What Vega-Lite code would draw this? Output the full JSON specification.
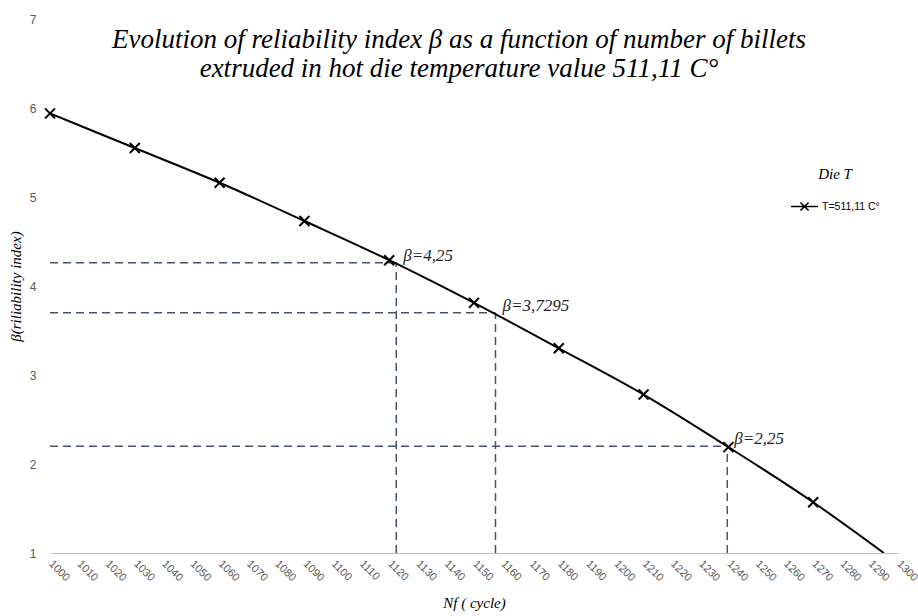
{
  "$schema": "https://vega.github.io/schema/vega-lite/v6.json",
  "autosize": "none",
  "width": 848,
  "height": 534,
  "padding": {"left": 50, "top": 19, "right": 20, "bottom": 63},
  "background": "white",
  "title": {
    "text": ["Evolution of reliability index β as a function of number of billets", "extruded in hot die temperature value 511,11 C°"],
    "font": "Liberation Serif",
    "fontStyle": "italic",
    "fontWeight": "normal",
    "fontSize": 27,
    "lineHeight": 29,
    "color": "#000000",
    "anchor": "middle",
    "frame": "group",
    "baseline": "top",
    "offset": -70,
    "dx": -15
  },
  "datasets": {
    "curve": [
      {"x": 1000, "y": 5.94, "series": "T=511,11 C°"},
      {"x": 1030, "y": 5.55, "series": "T=511,11 C°"},
      {"x": 1060, "y": 5.16, "series": "T=511,11 C°"},
      {"x": 1090, "y": 4.73, "series": "T=511,11 C°"},
      {"x": 1120, "y": 4.29, "series": "T=511,11 C°"},
      {"x": 1150, "y": 3.81, "series": "T=511,11 C°"},
      {"x": 1180, "y": 3.30, "series": "T=511,11 C°"},
      {"x": 1210, "y": 2.78, "series": "T=511,11 C°"},
      {"x": 1240, "y": 2.19, "series": "T=511,11 C°"},
      {"x": 1270, "y": 1.57, "series": "T=511,11 C°"},
      {"x": 1295, "y": 1.0, "series": "T=511,11 C°"}
    ],
    "refs": [
      {"x0": 1000, "y0": 1, "x": 1122.5, "y": 4.26, "label": "β=4,25"},
      {"x0": 1000, "y0": 1, "x": 1157.6, "y": 3.70, "label": "β=3,7295"},
      {"x0": 1000, "y0": 1, "x": 1239.6, "y": 2.20, "label": "β=2,25"}
    ]
  },
  "encoding": {
    "x": {
      "type": "quantitative",
      "title": "Nf ( cycle)",
      "scale": {"domain": [1000, 1300], "nice": false, "zero": false},
      "axis": {
        "values": [1000, 1010, 1020, 1030, 1040, 1050, 1060, 1070, 1080, 1090, 1100, 1110, 1120, 1130, 1140, 1150, 1160, 1170, 1180, 1190, 1200, 1210, 1220, 1230, 1240, 1250, 1260, 1270, 1280, 1290, 1300],
        "format": "d",
        "labelOverlap": false
      }
    },
    "y": {
      "type": "quantitative",
      "title": "β(riliability index)",
      "scale": {"domain": [1, 7], "nice": false, "zero": false},
      "axis": {"values": [1, 2, 3, 4, 5, 6, 7], "format": "d", "labelOverlap": false}
    }
  },
  "layer": [
    {
      "data": {"name": "refs"},
      "mark": {"type": "rule", "color": "#44546A", "strokeWidth": 1.5, "strokeDash": [8, 5]},
      "encoding": {
        "x": {"field": "x0", "type": "quantitative", "title": "Nf ( cycle)", "axis": {"values": [1000, 1010, 1020, 1030, 1040, 1050, 1060, 1070, 1080, 1090, 1100, 1110, 1120, 1130, 1140, 1150, 1160, 1170, 1180, 1190, 1200, 1210, 1220, 1230, 1240, 1250, 1260, 1270, 1280, 1290, 1300], "format": "d", "labelOverlap": false}},
        "x2": {"field": "x"},
        "y": {"field": "y", "type": "quantitative", "title": "β(riliability index)", "axis": {"values": [1, 2, 3, 4, 5, 6, 7], "format": "d", "labelOverlap": false}}
      }
    },
    {
      "data": {"name": "refs"},
      "mark": {"type": "rule", "color": "#44546A", "strokeWidth": 1.5, "strokeDash": [8, 5]},
      "encoding": {
        "x": {"field": "x", "type": "quantitative", "title": "Nf ( cycle)", "axis": {"values": [1000, 1010, 1020, 1030, 1040, 1050, 1060, 1070, 1080, 1090, 1100, 1110, 1120, 1130, 1140, 1150, 1160, 1170, 1180, 1190, 1200, 1210, 1220, 1230, 1240, 1250, 1260, 1270, 1280, 1290, 1300], "format": "d", "labelOverlap": false}},
        "y": {"field": "y0", "type": "quantitative", "title": "β(riliability index)", "axis": {"values": [1, 2, 3, 4, 5, 6, 7], "format": "d", "labelOverlap": false}},
        "y2": {"field": "y"}
      }
    },
    {
      "data": {"name": "curve"},
      "mark": {"type": "line", "interpolate": "monotone", "strokeWidth": 2, "clip": true},
      "encoding": {
        "x": {"field": "x"},
        "y": {"field": "y"},
        "color": {
          "field": "series", "type": "nominal",
          "scale": {"range": ["#000000"]},
          "legend": {
            "title": "Die T",
            "orient": "none",
            "legendX": 740,
            "legendY": 148,
            "titleFont": "Liberation Serif",
            "titleFontStyle": "italic",
            "titleFontWeight": "normal",
            "titleFontSize": 15,
            "titleColor": "#000000",
            "titleAnchor": "middle",
            "titlePadding": 10,
            "labelFont": "Liberation Sans",
            "labelFontSize": 10.5,
            "labelColor": "#000000",
            "labelOffset": 3,
            "symbolType": "M-1,0H1M-0.3,-0.3L0.3,0.3M-0.3,0.3L0.3,-0.3",
            "symbolSize": 729,
            "symbolStrokeWidth": 1.5,
            "symbolStrokeColor": "#000000"
          }
        }
      }
    },
    {
      "data": {"name": "curve"},
      "transform": [{"filter": "datum.x <= 1270"}],
      "mark": {"type": "point", "shape": "M-1,-1L1,1M-1,1L1,-1", "size": 100, "filled": false, "color": "#000000", "strokeWidth": 2, "opacity": 1},
      "encoding": {
        "x": {"field": "x"},
        "y": {"field": "y"}
      }
    },
    {
      "data": {"name": "refs"},
      "mark": {"type": "text", "align": "left", "baseline": "alphabetic", "dx": 7, "dy": -2, "font": "Liberation Serif", "fontStyle": "italic", "fontSize": 17, "color": "#222222"},
      "encoding": {
        "x": {"field": "x"},
        "y": {"field": "y"},
        "text": {"field": "label"}
      }
    }
  ],
  "config": {
    "view": {"stroke": null},
    "axisX": {
      "labelAngle": 45,
      "labelAlign": "left",
      "labelBaseline": "middle",
      "labelPadding": 9,
      "labelFont": "Liberation Sans",
      "labelFontSize": 11,
      "labelColor": "#595959",
      "labelOverlap": false,
      "labelFlush": false,
      "labelBound": false,
      "labelSeparation": 0,
      "ticks": false,
      "grid": false,
      "domainColor": "#bfbfbf",
      "domainWidth": 1,
      "titleFont": "Liberation Serif",
      "titleFontStyle": "italic",
      "titleFontWeight": "normal",
      "titleFontSize": 15,
      "titleColor": "#000000",
      "titlePadding": 13
    },
    "axisY": {
      "labelFont": "Liberation Sans",
      "labelFontSize": 12,
      "labelColor": "#595959",
      "labelPadding": 14,
      "labelOverlap": false,
      "ticks": false,
      "domain": false,
      "grid": false,
      "titleFont": "Liberation Serif",
      "titleFontStyle": "italic",
      "titleFontWeight": "normal",
      "titleFontSize": 15,
      "titleColor": "#000000",
      "titlePadding": 6
    }
  }
}
